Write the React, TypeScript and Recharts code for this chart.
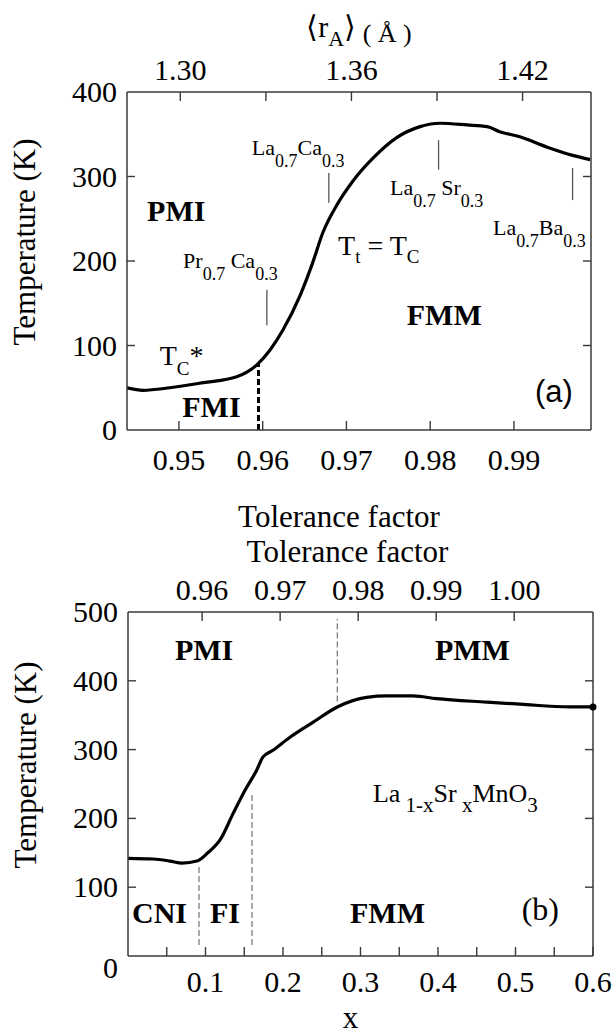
import { LineChart, Line, XAxis, YAxis, ReferenceLine, ReferenceDot } from "recharts";

const SERIF = "'Liberation Serif', 'Times New Roman', serif";
const SANS = "'Liberation Sans', Arial, sans-serif";
const FRAME = "#3a3a3a";

// (a) transition temperature vs tolerance factor
const toleranceA = [0.9438, 0.9457, 0.9489, 0.9529, 0.9569, 0.9593, 0.9609, 0.9624, 0.9645, 0.9659, 0.9672, 0.9689, 0.9708, 0.9732, 0.976, 0.9788, 0.9812, 0.9844, 0.9868, 0.9883, 0.9907, 0.9939, 0.997, 0.9991];
const tempA = [50, 47, 50, 56, 63, 77, 95, 118, 160, 196, 234, 267, 295, 322, 346, 359, 363, 361, 359, 353, 347, 335, 325, 320];
const toleranceTicksA = [0.95, 0.96, 0.97, 0.98, 0.99];
const radiusTicks = [1.3, 1.33, 1.36, 1.39, 1.42];
const radiusLabelled = [1.3, 1.36, 1.42];
const tempTicksA = [0, 100, 200, 300, 400];

// short marks at the named compounds
const compoundTol = [0.9605, 0.9679, 0.981, 0.997];
const compoundLow = [124, 269, 308, 272];
const compoundHigh = [166, 304, 343, 310];

// FMI / FMM boundary
const fmiTol = 0.9595;
const fmiTop = 80;

// (b) La1-xSrxMnO3
const xB = [0, 0.032, 0.054, 0.07, 0.089, 0.103, 0.119, 0.136, 0.151, 0.166, 0.174, 0.187, 0.209, 0.239, 0.27, 0.308, 0.334, 0.368, 0.398, 0.463, 0.506, 0.57, 0.6];
const tempB = [142, 141, 138, 135, 138, 150, 169, 208, 241, 270, 289, 299, 318, 340, 362, 376, 378, 378, 374, 369, 366, 362, 362];
const xTicksB = [0.05, 0.1, 0.15, 0.2, 0.25, 0.3, 0.35, 0.4, 0.45, 0.5, 0.55, 0.6];
const toleranceTicksB = [0.96, 0.97, 0.98, 0.99, 1.0];
const tempTicksB = [0, 100, 200, 300, 400, 500];

const boundaryX = [0.0916, 0.16, 0.27];
const boundaryLow = [16, 16, 370];
const boundaryHigh = [130, 238, 490];

type Part = [string, boolean];

interface Tag {
  x: number;
  y: number;
  parts: Part[];
  size: number;
  sub?: number;
  drop?: number;
  bold?: boolean;
  font?: string;
}

const tagsA: Tag[] = [
  { x: 0.9462, y: 247, parts: [["PMI", false]], size: 30, bold: true },
  { x: 0.9772, y: 124, parts: [["FMM", false]], size: 30, bold: true },
  { x: 0.9504, y: 15, parts: [["FMI", false]], size: 30, bold: true },
  { x: 0.9925, y: 33, parts: [["(a)", false]], size: 31, font: SANS },
  { x: 0.9505, y: 192, parts: [["Pr", false], ["0.7", true], [" Ca", false], ["0.3", true]], size: 22, sub: 18, drop: 12 },
  { x: 0.9587, y: 325, parts: [["La", false], ["0.7", true], ["Ca", false], ["0.3", true]], size: 22, sub: 18, drop: 12 },
  { x: 0.9752, y: 278, parts: [["La", false], ["0.7", true], [" Sr", false], ["0.3", true]], size: 22, sub: 18, drop: 12 },
  { x: 0.9875, y: 231, parts: [["La", false], ["0.7", true], ["Ba", false], ["0.3", true]], size: 22, sub: 18, drop: 12 },
  { x: 0.969, y: 207, parts: [["T", false], ["t", true], [" = T", false], ["C", true]], size: 28, sub: 19, drop: 8 },
  { x: 0.9477, y: 77, parts: [["T", false], ["C", true], ["*", false]], size: 28, sub: 19, drop: 10 },
];

const tagsB: Tag[] = [
  { x: 0.0606, y: 430, parts: [["PMI", false]], size: 30, bold: true },
  { x: 0.396, y: 430, parts: [["PMM", false]], size: 30, bold: true },
  { x: 0.0052, y: 48, parts: [["CNI", false]], size: 30, bold: true },
  { x: 0.1058, y: 48, parts: [["FI", false]], size: 30, bold: true },
  { x: 0.2865, y: 48, parts: [["FMM", false]], size: 30, bold: true },
  { x: 0.508, y: 52, parts: [["(b)", false]], size: 32 },
  { x: 0.316, y: 224, parts: [["La", false], [" 1-x", true], ["Sr", false], [" x", true], ["MnO", false], ["3", true]], size: 26, sub: 21, drop: 10 },
];

const renderTag = (t: Tag) => (p: any) => {
  let low = false;
  return (
    <text x={p.cx} y={p.cy} fontFamily={t.font ?? SERIF} fontSize={t.size} fontWeight={t.bold ? 700 : 400} fill="#000" style={{ whiteSpace: "pre" }}>
      {t.parts.map(([s, isSub], i) => {
        let dy = 0;
        if (isSub && !low) {
          dy = t.drop ?? 0;
          low = true;
        } else if (!isSub && low) {
          dy = -(t.drop ?? 0);
          low = false;
        }
        return (
          <tspan key={i} dy={dy} fontSize={isSub ? t.sub : t.size}>
            {s}
          </tspan>
        );
      })}
    </text>
  );
};

const hTick = (side: "top" | "bottom", gap: number, label: (v: number) => string | null) => (p: any) => {
  const v = p.payload.value;
  const text = label(v);
  const inward = side === "bottom" ? -9 : 9;
  return (
    <g>
      <line x1={p.x} x2={p.x} y1={p.y} y2={p.y + inward} stroke={FRAME} strokeWidth={1.4} />
      {text !== null && (
        <text x={p.x} y={side === "bottom" ? p.y + gap : p.y - gap} textAnchor="middle" fontFamily={SERIF} fontSize={30} fill="#000">
          {text}
        </text>
      )}
    </g>
  );
};

const vTick = (side: "left" | "right", top: number, zeroDrop: number) => (p: any) => {
  const v = p.payload.value;
  const edge = v === 0 || v === top;
  const inward = side === "left" ? 8 : -8;
  return (
    <g>
      {!edge && <line x1={p.x} x2={p.x + inward} y1={p.y} y2={p.y} stroke={FRAME} strokeWidth={1.4} />}
      {side === "left" && (
        <text x={p.x - 10} y={p.y + 10 + (v === 0 ? zeroDrop : 0)} textAnchor="end" fontFamily={SERIF} fontSize={30} fill="#000">
          {v}
        </text>
      )}
    </g>
  );
};

const hTitle = (dx: number, dy: number, text: string) => ({
  content: (p: any) => (
    <text x={p.viewBox.x + p.viewBox.width / 2 + dx} y={p.viewBox.y + dy} textAnchor="middle" fontFamily={SERIF} fontSize={31} fill="#000">
      {text}
    </text>
  ),
});

const vTitle = (dy: number) => ({
  content: (p: any) => {
    const x = p.viewBox.x - 91;
    const y = p.viewBox.y + p.viewBox.height / 2 + dy;
    return (
      <text x={x} y={y} transform={`rotate(-90 ${x} ${y})`} textAnchor="middle" fontFamily={SERIF} fontSize={31} fill="#000">
        Temperature (K)
      </text>
    );
  },
});

const radiusTitle = {
  content: (p: any) => (
    <text x={p.viewBox.x + p.viewBox.width / 2} y={p.viewBox.y - 54} textAnchor="middle" fontFamily={SERIF} fontSize={30} fill="#000" style={{ whiteSpace: "pre" }}>
      <tspan>⟨r</tspan>
      <tspan fontSize={22} dy={9}>A</tspan>
      <tspan dy={-9}>⟩</tspan>
      <tspan fontSize={26} dy={5}> ( Å )</tspan>
    </text>
  ),
};

const axisLine = { stroke: FRAME, strokeWidth: 1.5 };
const axisBits = { tickSize: 0, tickMargin: 0, tickLine: false, interval: 0 as const, allowDataOverflow: true, axisLine };

function PanelA() {
  const data = toleranceA.map((t, i) => ({ tol: t, temp: tempA[i] }));
  return (
    <LineChart width={614} height={533} data={data} margin={{ top: 91, right: 22, bottom: 102, left: 126 }}>
      <XAxis
        {...axisBits}
        dataKey="tol"
        type="number"
        domain={[0.9438, 0.9992]}
        ticks={toleranceTicksA}
        height={1}
        tick={hTick("bottom", 40, (v) => v.toFixed(2))}
        label={hTitle(-20, 97, "Tolerance factor")}
      />
      <XAxis
        {...axisBits}
        xAxisId="top"
        dataKey="tol"
        orientation="top"
        type="number"
        domain={[1.2813, 1.444]}
        ticks={radiusTicks}
        height={1}
        tick={hTick("top", 12, (v) => (radiusLabelled.includes(v) ? v.toFixed(2) : null))}
        label={radiusTitle}
      />
      <YAxis
        {...axisBits}
        type="number"
        domain={[0, 400]}
        ticks={tempTicksA}
        width={1}
        tick={vTick("left", 400, 0)}
        label={vTitle(-19)}
      />
      <YAxis
        {...axisBits}
        yAxisId="right"
        dataKey="temp"
        orientation="right"
        type="number"
        domain={[0, 400]}
        ticks={tempTicksA}
        width={1}
        tick={vTick("right", 400, 0)}
      />
      {compoundTol.map((t, i) => (
        <ReferenceLine
          key={`m${i}`}
          segment={[
            { x: t, y: compoundLow[i] },
            { x: t, y: compoundHigh[i] },
          ]}
          stroke="#555"
          strokeWidth={1.3}
        />
      ))}
      <ReferenceLine
        segment={[
          { x: fmiTol, y: 0 },
          { x: fmiTol, y: fmiTop },
        ]}
        stroke="#000"
        strokeWidth={3}
        strokeDasharray="6 3"
      />
      <Line type="monotone" dataKey="temp" stroke="#000" strokeWidth={3.2} dot={false} isAnimationActive={false} />
      {tagsA.map((t, i) => (
        <ReferenceDot key={`a${i}`} x={t.x} y={t.y} r={1} ifOverflow="visible" shape={renderTag(t)} />
      ))}
    </LineChart>
  );
}

function PanelB() {
  const data = xB.map((x, i) => ({ x, temp: tempB[i] }));
  const last = xB.length - 1;
  return (
    <LineChart width={614} height={501} data={data} margin={{ top: 78, right: 20, bottom: 77, left: 127 }}>
      <XAxis
        {...axisBits}
        dataKey="x"
        type="number"
        domain={[0, 0.6]}
        ticks={xTicksB}
        height={1}
        tick={hTick("bottom", 36, (v) => (Math.round(v * 100) % 10 === 0 ? v.toFixed(1) : null))}
        label={hTitle(-10, 72, "x")}
      />
      <XAxis
        {...axisBits}
        xAxisId="top"
        dataKey="x"
        orientation="top"
        type="number"
        domain={[0.9505, 1.0101]}
        ticks={toleranceTicksB}
        height={1}
        tick={hTick("top", 12, (v) => v.toFixed(2))}
        label={hTitle(-13, -49, "Tolerance factor")}
      />
      <YAxis
        {...axisBits}
        type="number"
        domain={[0, 500]}
        ticks={tempTicksB}
        width={1}
        tick={vTick("left", 500, 12)}
        label={vTitle(-19)}
      />
      <YAxis
        {...axisBits}
        yAxisId="right"
        dataKey="temp"
        orientation="right"
        type="number"
        domain={[0, 500]}
        ticks={tempTicksB}
        width={1}
        tick={vTick("right", 500, 0)}
      />
      {boundaryX.map((x, i) => (
        <ReferenceLine
          key={`d${i}`}
          segment={[
            { x, y: boundaryLow[i] },
            { x, y: boundaryHigh[i] },
          ]}
          stroke="#555"
          strokeWidth={1}
          strokeDasharray="6 3"
        />
      ))}
      <Line type="monotone" dataKey="temp" stroke="#000" strokeWidth={3.2} dot={false} isAnimationActive={false} />
      <ReferenceDot x={xB[last]} y={tempB[last]} r={3.5} fill="#000" stroke="none" ifOverflow="visible" />
      {tagsB.map((t, i) => (
        <ReferenceDot key={`b${i}`} x={t.x} y={t.y} r={1} ifOverflow="visible" shape={renderTag(t)} />
      ))}
    </LineChart>
  );
}

export default function App() {
  return (
    <div style={{ position: "absolute", left: 0, top: 0, width: 614, height: 1034, background: "#fff" }}>
      <PanelA />
      <PanelB />
    </div>
  );
}
